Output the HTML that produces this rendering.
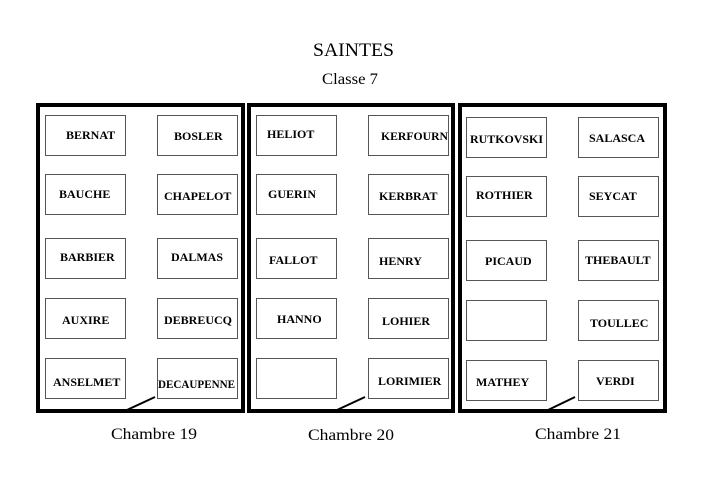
<!DOCTYPE html>
<html><head><meta charset="utf-8"><style>
html,body{margin:0;padding:0;background:#fff}
svg{display:block}
text{font-family:"Liberation Serif",serif}
.n{font-size:12px;font-weight:bold}
</style></head><body>
<svg width="702" height="496" viewBox="0 0 702 496" xmlns="http://www.w3.org/2000/svg">
<rect width="702" height="496" fill="#fff"/>
<text x="313" y="56" font-size="19" textLength="81" lengthAdjust="spacingAndGlyphs">SAINTES</text>
<text x="322" y="84" font-size="16" textLength="56" lengthAdjust="spacingAndGlyphs">Classe 7</text>
<g fill="none" stroke="#000" stroke-width="4">
<rect x="38" y="105" width="205" height="306"/>
<rect x="249" y="105" width="204" height="306"/>
<rect x="460" y="105" width="205" height="306"/>
</g>
<g fill="#fff" stroke="#555" stroke-width="1">
<rect x="45.5" y="115.5" width="80" height="40"/><rect x="157.5" y="115.5" width="80" height="40"/>
<rect x="45.5" y="174.5" width="80" height="40"/><rect x="157.5" y="174.5" width="80" height="40"/>
<rect x="45.5" y="238.5" width="80" height="40"/><rect x="157.5" y="238.5" width="80" height="40"/>
<rect x="45.5" y="298.5" width="80" height="40"/><rect x="157.5" y="298.5" width="80" height="40"/>
<rect x="45.5" y="358.5" width="80" height="40"/><rect x="157.5" y="358.5" width="80" height="40"/>

<rect x="256.5" y="115.5" width="80" height="40"/><rect x="368.5" y="115.5" width="80" height="40"/>
<rect x="256.5" y="174.5" width="80" height="40"/><rect x="368.5" y="174.5" width="80" height="40"/>
<rect x="256.5" y="238.5" width="80" height="40"/><rect x="368.5" y="238.5" width="80" height="40"/>
<rect x="256.5" y="298.5" width="80" height="40"/><rect x="368.5" y="298.5" width="80" height="40"/>
<rect x="256.5" y="358.5" width="80" height="40"/><rect x="368.5" y="358.5" width="80" height="40"/>

<rect x="466.5" y="117.5" width="80" height="40"/><rect x="578.5" y="117.5" width="80" height="40"/>
<rect x="466.5" y="176.5" width="80" height="40"/><rect x="578.5" y="176.5" width="80" height="40"/>
<rect x="466.5" y="240.5" width="80" height="40"/><rect x="578.5" y="240.5" width="80" height="40"/>
<rect x="466.5" y="300.5" width="80" height="40"/><rect x="578.5" y="300.5" width="80" height="40"/>
<rect x="466.5" y="360.5" width="80" height="40"/><rect x="578.5" y="360.5" width="80" height="40"/>
</g>
<g stroke="#000" stroke-width="2">
<line x1="127" y1="410" x2="155" y2="397"/>
<line x1="337" y1="410" x2="365" y2="397"/>
<line x1="548" y1="410" x2="575" y2="397"/>
</g>
<g class="n">
<text x="66" y="139">BERNAT</text><text x="174" y="140">BOSLER</text>
<text x="59" y="198">BAUCHE</text><text x="164" y="200">CHAPELOT</text>
<text x="60" y="261">BARBIER</text><text x="171" y="261">DALMAS</text>
<text x="62" y="324">AUXIRE</text><text x="164" y="324">DEBREUCQ</text>
<text x="53" y="386">ANSELMET</text><text x="158" y="388" textLength="77" lengthAdjust="spacingAndGlyphs">DECAUPENNE</text>

<text x="267" y="138">HELIOT</text><text x="381" y="140" textLength="67" lengthAdjust="spacingAndGlyphs">KERFOURN</text>
<text x="268" y="198">GUERIN</text><text x="379" y="200">KERBRAT</text>
<text x="269" y="264">FALLOT</text><text x="379" y="265">HENRY</text>
<text x="277" y="323">HANNO</text><text x="382" y="325">LOHIER</text>
<text x="378" y="385">LORIMIER</text>

<text x="470" y="143" textLength="73" lengthAdjust="spacingAndGlyphs">RUTKOVSKI</text><text x="589" y="142">SALASCA</text>
<text x="476" y="199">ROTHIER</text><text x="589" y="200">SEYCAT</text>
<text x="485" y="265">PICAUD</text><text x="585" y="264">THEBAULT</text>
<text x="590" y="327">TOULLEC</text>
<text x="476" y="386">MATHEY</text><text x="596" y="385">VERDI</text>
</g>
<text x="111" y="439" font-size="16" textLength="86" lengthAdjust="spacingAndGlyphs">Chambre 19</text>
<text x="308" y="440" font-size="16" textLength="86" lengthAdjust="spacingAndGlyphs">Chambre 20</text>
<text x="535" y="439" font-size="16" textLength="86" lengthAdjust="spacingAndGlyphs">Chambre 21</text>
</svg>
</body></html>
